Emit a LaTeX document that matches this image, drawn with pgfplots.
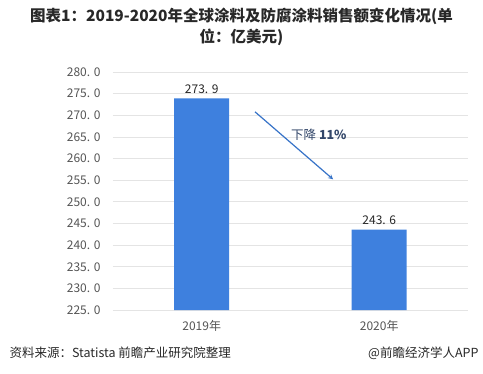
\documentclass[border=0pt]{standalone}
\usepackage{fontspec}
\setmainfont{Noto Sans CJK SC}
\usepackage{pgfplots}
\pgfplotsset{compat=1.18}
\definecolor{barblue}{RGB}{62,128,222}
\definecolor{arrowblue}{RGB}{55,115,200}
\definecolor{gridgray}{RGB}{228,228,228}
\definecolor{ticktext}{RGB}{85,85,85}
\definecolor{titletext}{RGB}{40,40,40}
\definecolor{annot}{RGB}{50,70,105}
\begin{document}
\begin{tikzpicture}[x=1pt,y=1pt]
\path[use as bounding box, fill=white] (0,0) rectangle (483,373);
\node[font=\fontsize{15.5}{18}\selectfont\bfseries, text=titletext] at (241.5,357) {图表1：2019-2020年全球涂料及防腐涂料销售额变化情况(单};
\node[font=\fontsize{15.5}{18}\selectfont\bfseries, text=titletext] at (241.5,336) {位：亿美元)};
\begin{axis}[
  at={(113pt,63pt)}, anchor=south west,
  scale only axis, width=355pt, height=238pt,
  xmin=-0.5, xmax=1.5, ymin=225, ymax=280,
  axis line style={draw=none},
  tick style={draw=none},
  ymajorgrids, major grid style={gridgray, line width=0.8pt},
  ytick={225,230,235,240,245,250,255,260,265,270,275,280},
  yticklabels={225. 0,230. 0,235. 0,240. 0,245. 0,250. 0,255. 0,260. 0,265. 0,270. 0,275. 0,280. 0},
  yticklabel style={font=\fontsize{12}{13}\selectfont, text=ticktext, xshift=-9pt},
  xtick={0,1}, xticklabels={2019年,2020年},
  xticklabel style={font=\fontsize{12}{13}\selectfont, text=ticktext, yshift=-3pt},
  ybar, bar width=55pt,
  nodes near coords, point meta=explicit symbolic,
  nodes near coords style={font=\fontsize{12}{13}\selectfont, text=titletext, yshift=1pt},
  clip=false,
]
\addplot[fill=barblue, draw=none] coordinates {(0,273.9) [273. 9] (1,243.6) [243. 6]};
\draw[-stealth, arrowblue, line width=1.2pt] (axis cs:0.30,270.8) -- (axis cs:0.74,255.2);
\node[font=\fontsize{12.5}{14}\selectfont, text=annot] at (axis cs:0.66,265.4) {下降 \textbf{11\%}};
\end{axis}
\node[anchor=west, font=\fontsize{12.5}{14}\selectfont, text=titletext] at (6,20) {资料来源：Statista 前瞻产业研究院整理};
\node[anchor=east, font=\fontsize{12.5}{14}\selectfont, text=titletext] at (482,20) {@前瞻经济学人APP};
\end{tikzpicture}
\end{document}
